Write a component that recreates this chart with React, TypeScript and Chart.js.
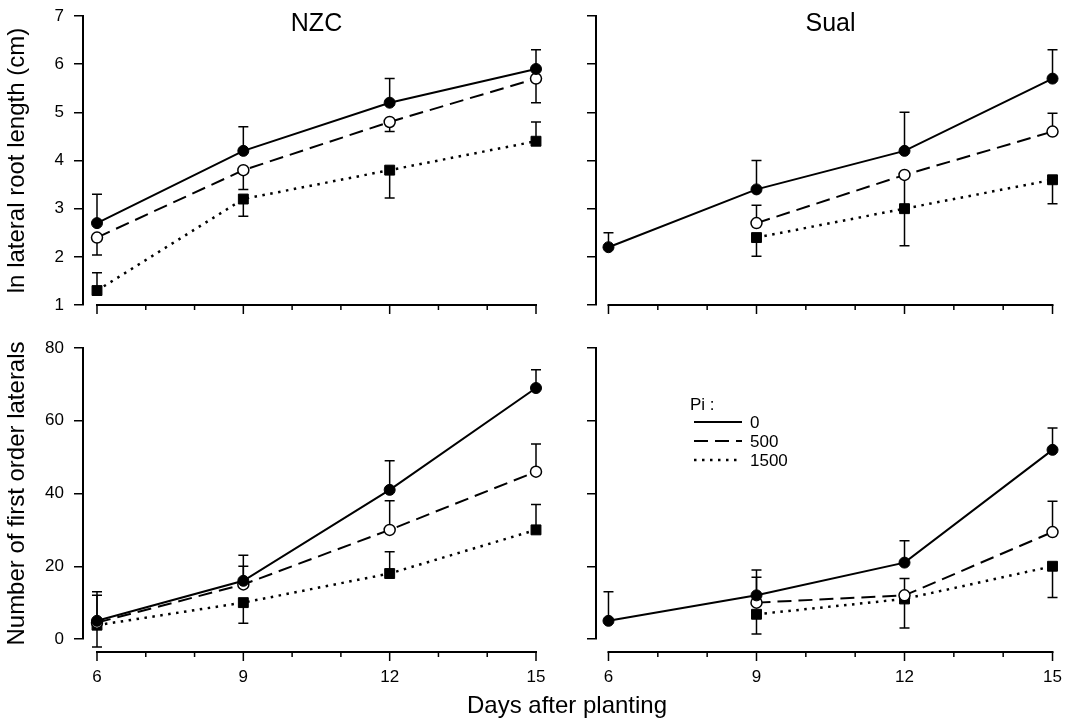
import React, { useEffect, useRef } from 'react';
import { Chart, registerables } from 'chart.js';

Chart.register(...registerables);

// ---------- data ----------
const days = [6, 9, 12, 15];
const xTickDays = [6, 7, 8, 9, 10, 11, 12, 13, 14, 15];
const xLabelDays = [6, 9, 12, 15];
const lengthTicks = [1, 2, 3, 4, 5, 6, 7];
const countTicks = [0, 20, 40, 60, 80];
const piLevels = ['0', '500', '1500'];
const cultivars = ['NZC', 'Sual'];

const yTitleLength = 'ln lateral root length (cm)';
const yTitleCount = 'Number of first order laterals';
const xTitle = 'Days after planting';
const legendTitle = 'Pi :';

// null = not measured; error bars: positive = drawn upward, negative = drawn downward
const nzcLength0 = [2.7, 4.2, 5.2, 5.9];
const nzcLength0Err = [0.6, 0.5, 0.5, 0.4];
const nzcLength500 = [2.4, 3.8, 4.8, 5.7];
const nzcLength500Err = [-0.36, -0.4, -0.2, -0.5];
const nzcLength1500 = [1.3, 3.2, 3.8, 4.4];
const nzcLength1500Err = [0.37, -0.36, -0.58, 0.4];

const sualLength0 = [2.2, 3.4, 4.2, 5.7];
const sualLength0Err = [0.3, 0.6, 0.8, 0.6];
const sualLength500 = [null, 2.7, 3.7, 4.6];
const sualLength500Err = [0, 0.37, -0.7, 0.38];
const sualLength1500 = [null, 2.4, 3.0, 3.6];
const sualLength1500Err = [0, -0.39, -0.77, -0.5];

const nzcCount0 = [5, 16, 41, 69];
const nzcCount0Err = [8, 7, 8, 5];
const nzcCount500 = [4.5, 15, 30, 46];
const nzcCount500Err = [7.5, 5, 8, 7.6];
const nzcCount1500 = [3.8, 10, 18, 30];
const nzcCount1500Err = [-6, -5.7, 6, 7];

const sualCount0 = [5, 12, 21, 52];
const sualCount0Err = [8, 7, 6, 6];
const sualCount500 = [null, 10, 12, 29.4];
const sualCount500Err = [0, 7, 4.6, 8.5];
const sualCount1500 = [null, 6.8, 11, 20];
const sualCount1500Err = [0, -5.4, -8, -8.6];

// ---------- styles ----------
const FONT = '"Liberation Sans", Arial, Helvetica, sans-serif';
const W = 1074;
const H = 720;

const seriesStyle = [
  { dash: [] as number[], pointStyle: 'circle', radius: 5.5, fill: '#000', lineWidth: 2, pointBorder: 1 },
  { dash: [14, 7], pointStyle: 'circle', radius: 5.5, fill: '#fff', lineWidth: 2, pointBorder: 1.5 },
  { dash: [2.5, 5.5], pointStyle: 'rect', radius: 7, fill: '#000', lineWidth: 2.5, pointBorder: 1 },
];

type Series = { values: (number | null)[]; errors: number[] };
type PanelSpec = {
  title: string;
  series: Series[];
  yMin: number;
  yMax: number;
  yTicks: number[];
  yLabels: boolean;
  yTitle?: string;
  xMin: number;
  xMax: number;
  xLabels: boolean;
  area: { left: number; top: number; right: number; bottom: number };
  axisDrop: number;
  legend?: boolean;
  footer?: boolean;
};

const leftX = { xMin: 5.713, xMax: 15.287 };
const rightX = { xMin: 5.747, xMax: 15.253 };

const panels: PanelSpec[] = [
  {
    title: cultivars[0],
    series: [
      { values: nzcLength0, errors: nzcLength0Err },
      { values: nzcLength500, errors: nzcLength500Err },
      { values: nzcLength1500, errors: nzcLength1500Err },
    ],
    yMin: 1, yMax: 7, yTicks: lengthTicks, yLabels: true, yTitle: yTitleLength,
    ...leftX, xLabels: false,
    area: { left: 83, top: 16, right: 550, bottom: 305 },
    axisDrop: 0,
  },
  {
    title: cultivars[1],
    series: [
      { values: sualLength0, errors: sualLength0Err },
      { values: sualLength500, errors: sualLength500Err },
      { values: sualLength1500, errors: sualLength1500Err },
    ],
    yMin: 1, yMax: 7, yTicks: lengthTicks, yLabels: false,
    ...rightX, xLabels: false,
    area: { left: 596, top: 16, right: 1065, bottom: 305 },
    axisDrop: 0,
  },
  {
    title: '',
    series: [
      { values: nzcCount0, errors: nzcCount0Err },
      { values: nzcCount500, errors: nzcCount500Err },
      { values: nzcCount1500, errors: nzcCount1500Err },
    ],
    yMin: 0, yMax: 80, yTicks: countTicks, yLabels: true, yTitle: yTitleCount,
    ...leftX, xLabels: true,
    area: { left: 83, top: 348, right: 550, bottom: 639 },
    axisDrop: 13,
    footer: true,
  },
  {
    title: '',
    series: [
      { values: sualCount0, errors: sualCount0Err },
      { values: sualCount500, errors: sualCount500Err },
      { values: sualCount1500, errors: sualCount1500Err },
    ],
    yMin: 0, yMax: 80, yTicks: countTicks, yLabels: false,
    ...rightX, xLabels: true,
    area: { left: 596, top: 348, right: 1065, bottom: 639 },
    axisDrop: 13,
    legend: true,
  },
];

// ---------- plugin: error bars, detached x axis, titles, legend ----------
const panelPlugin = {
  id: 'panelDecor',
  beforeDatasetsDraw(chart: any) {
    const { ctx } = chart;
    const xs = chart.scales.x;
    const ys = chart.scales.y;
    ctx.save();
    ctx.strokeStyle = '#000';
    ctx.lineWidth = 1.5;
    ctx.setLineDash([]);
    chart.data.datasets.forEach((ds: any) => {
      ds.data.forEach((pt: any, i: number) => {
        const e = ds.errorBars[i];
        if (pt.y == null || !e) return;
        const px = xs.getPixelForValue(pt.x);
        const p0 = ys.getPixelForValue(pt.y);
        const p1 = ys.getPixelForValue(pt.y + e);
        ctx.beginPath();
        ctx.moveTo(px, p0);
        ctx.lineTo(px, p1);
        ctx.moveTo(px - 5, p1);
        ctx.lineTo(px + 5, p1);
        ctx.stroke();
      });
    });
    ctx.restore();
  },
  afterDraw(chart: any, _args: any, opts: any) {
    const { ctx, chartArea } = chart;
    const xs = chart.scales.x;
    ctx.save();
    ctx.strokeStyle = '#000';
    ctx.fillStyle = '#000';
    ctx.setLineDash([]);
    // x axis line + tick marks
    const yLine = chartArea.bottom + opts.axisDrop;
    const first = xs.getPixelForValue(xTickDays[0]);
    const last = xs.getPixelForValue(xTickDays[xTickDays.length - 1]);
    ctx.lineWidth = 2;
    ctx.beginPath();
    ctx.moveTo(first - 1, yLine);
    ctx.lineTo(last + 1, yLine);
    ctx.stroke();
    ctx.lineWidth = 1.5;
    xs.ticks.forEach((t: any) => {
      const px = xs.getPixelForValue(t.value);
      const len = xLabelDays.includes(t.value) ? 9 : 5;
      ctx.beginPath();
      ctx.moveTo(px, yLine);
      ctx.lineTo(px, yLine + len);
      ctx.stroke();
    });
    // panel title
    if (opts.title) {
      ctx.font = `25px ${FONT}`;
      ctx.textAlign = 'center';
      ctx.textBaseline = 'alphabetic';
      ctx.fillText(opts.title, (first + last) / 2, chartArea.top + 15);
    }
    // shared x-axis title
    if (opts.footer) {
      ctx.font = `24px ${FONT}`;
      ctx.textAlign = 'center';
      ctx.textBaseline = 'alphabetic';
      ctx.fillText(xTitle, 567, 713);
    }
    // legend
    if (opts.legend) {
      const lx = chartArea.left + 94;
      const ly = chartArea.top + 61.5;
      ctx.font = `17px ${FONT}`;
      ctx.textAlign = 'left';
      ctx.textBaseline = 'alphabetic';
      ctx.fillText(legendTitle, lx, ly);
      chart.data.datasets.forEach((ds: any, i: number) => {
        const rowY = ly + 12.5 + i * 19;
        ctx.lineWidth = ds.borderWidth;
        ctx.setLineDash(ds.borderDash || []);
        ctx.beginPath();
        ctx.moveTo(lx + 4, rowY);
        ctx.lineTo(lx + 52, rowY);
        ctx.stroke();
        ctx.setLineDash([]);
        ctx.textBaseline = 'middle';
        ctx.fillText(ds.label, lx + 60, rowY + 1.5);
      });
    }
    ctx.restore();
  },
};

function buildConfig(spec: PanelSpec): any {
  const { area } = spec;
  return {
    type: 'line',
    data: {
      datasets: spec.series.map((s, k) => {
        const st = seriesStyle[k];
        return {
          label: piLevels[k],
          data: days.map((d, i) => ({ x: d, y: s.values[i] })),
          errorBars: s.errors,
          borderColor: '#000',
          borderWidth: st.lineWidth,
          borderDash: st.dash,
          pointStyle: st.pointStyle,
          pointRadius: st.radius,
          pointBackgroundColor: st.fill,
          pointBorderColor: '#000',
          pointBorderWidth: st.pointBorder,
          fill: false,
          tension: 0,
          clip: false,
        };
      }),
    },
    options: {
      responsive: false,
      animation: false,
      devicePixelRatio: 1,
      events: [],
      layout: {
        padding: { left: 0, top: area.top, right: W - area.right, bottom: 0 },
      },
      plugins: {
        legend: { display: false },
        title: { display: false },
        tooltip: { enabled: false },
        panelDecor: {
          title: spec.title,
          axisDrop: spec.axisDrop,
          legend: !!spec.legend,
          footer: !!spec.footer,
        },
      },
      scales: {
        x: {
          type: 'linear',
          position: 'bottom',
          min: spec.xMin,
          max: spec.xMax,
          grid: { display: false, drawTicks: false },
          border: { display: false },
          ticks: {
            padding: 28,
            color: '#000',
            font: { family: FONT, size: 17 },
            maxRotation: 0,
            autoSkip: false,
            callback: (v: any) => (spec.xLabels && xLabelDays.includes(v) ? String(v) : ''),
          },
          afterBuildTicks: (s: any) => {
            s.ticks = xTickDays.map((v) => ({ value: v }));
          },
          afterFit: (s: any) => {
            s.height = H - area.bottom;
            s.paddingLeft = 0;
            s.paddingRight = 0;
          },
        },
        y: {
          type: 'linear',
          min: spec.yMin,
          max: spec.yMax,
          grid: {
            display: true,
            drawOnChartArea: false,
            drawTicks: true,
            tickLength: 9,
            color: '#000',
            lineWidth: 1.5,
          },
          border: { display: true, color: '#000', width: 2 },
          ticks: {
            padding: 10,
            color: '#000',
            font: { family: FONT, size: 17 },
            callback: (v: any) => (spec.yLabels ? String(v) : ''),
          },
          title: {
            display: !!spec.yTitle,
            text: spec.yTitle || '',
            color: '#000',
            font: { family: FONT, size: 24 },
            padding: { top: 3, bottom: 0 },
          },
          afterBuildTicks: (s: any) => {
            s.ticks = spec.yTicks.map((v) => ({ value: v }));
          },
          afterFit: (s: any) => {
            s.width = area.left;
            s.paddingTop = 0;
            s.paddingBottom = 0;
          },
        },
      },
    },
    plugins: [panelPlugin],
  };
}

function Panel({ spec }: { spec: PanelSpec }) {
  const ref = useRef<HTMLCanvasElement>(null);
  useEffect(() => {
    const chart = new Chart(ref.current as HTMLCanvasElement, buildConfig(spec));
    return () => chart.destroy();
  }, [spec]);
  return (
    <canvas
      ref={ref}
      width={W}
      height={H}
      style={{ position: 'absolute', left: 0, top: 0, width: W, height: H }}
    />
  );
}

export default function App() {
  useEffect(() => {
    document.body.style.margin = '0';
  }, []);
  return (
    <div
      style={{
        position: 'absolute',
        left: 0,
        top: 0,
        width: W,
        height: H,
        background: '#fff',
        overflow: 'hidden',
      }}
    >
      {panels.map((p, i) => (
        <Panel key={i} spec={p} />
      ))}
    </div>
  );
}
